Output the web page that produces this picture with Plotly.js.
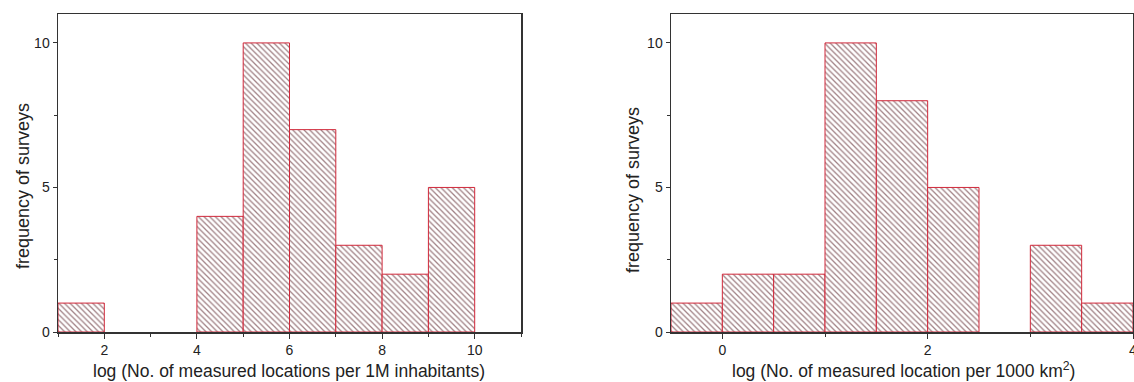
<!DOCTYPE html>
<html>
<head>
<meta charset="utf-8">
<script src="https://cdn.plot.ly/plotly-3.0.1.min.js"></script>
<style>
html,body{margin:0;padding:0;background:#fff;overflow:hidden;}
#chart{width:1134px;height:382px;}
</style>
</head>
<body>
<div id="chart"></div>
<script>
// Left histogram: log (No. of measured locations per 1M inhabitants), bin width 1
const leftBinCenters = [1.5, 4.5, 5.5, 6.5, 7.5, 8.5, 9.5];
const leftCounts     = [1, 4, 10, 7, 3, 2, 5];
const leftBinWidth   = 1;

// Right histogram: log (No. of measured location per 1000 km2), bin width 0.5
const rightBinCenters = [-0.25, 0.25, 0.75, 1.25, 1.75, 2.25, 3.25, 3.75];
const rightCounts     = [1, 2, 2, 10, 8, 5, 3, 1];
const rightBinWidth   = 0.5;

const yTicks = [0, 5, 10];
const leftXTicks = [2, 4, 6, 8, 10];
const rightXTicks = [0, 2, 4];

const W = 1134, H = 382;
const fontFam = '"Liberation Sans", Arial, sans-serif';

const pattern = {shape: '\\', fgcolor: '#a08084', bgcolor: '#ffffff', size: 4, solidity: 0.32, fillmode: 'replace'};
const barMarker = {color: '#ffffff', line: {color: '#d0283a', width: 1}, pattern: pattern};

const traces = [
  {type: 'bar', x: leftBinCenters, y: leftCounts, width: leftBinWidth,
   marker: barMarker, xaxis: 'x', yaxis: 'y', hoverinfo: 'x+y'},
  {type: 'bar', x: rightBinCenters, y: rightCounts, width: rightBinWidth,
   marker: barMarker, xaxis: 'x2', yaxis: 'y2', hoverinfo: 'x+y'}
];

const yDom = [1 - 332/H, 1 - 14/H];
function xAxis(dom, range, ticks, minorDtick, anchor) {
  return {
    domain: dom, range: range, anchor: anchor,
    tickmode: 'array', tickvals: ticks, ticktext: ticks.map(String),
    ticks: 'outside', ticklen: 5, tickwidth: 1, tickcolor: '#333',
    minor: {dtick: minorDtick, ticks: 'outside', ticklen: 3, tickcolor: '#333', showgrid: false},
    showline: true, linecolor: '#333', linewidth: 1.5, mirror: true,
    showgrid: false, zeroline: false, automargin: false,
    ticklabeloverflow: 'allow',
    tickfont: {family: fontFam, size: 14, color: '#222'}
  };
}
function yAxis(anchor) {
  return {
    domain: yDom, range: [0, 11], anchor: anchor,
    tickmode: 'array', tickvals: yTicks, ticktext: yTicks.map(String),
    ticks: 'outside', ticklen: 4, tickwidth: 1, tickcolor: '#333',
    minor: {tickvals: [2.5, 7.5], ticks: 'outside', ticklen: 3, tickcolor: '#333', showgrid: false},
    showline: true, linecolor: '#333', linewidth: 1.5, mirror: true,
    showgrid: false, zeroline: false, automargin: false,
    tickfont: {family: fontFam, size: 14, color: '#222'}
  };
}

const layout = {
  width: W, height: H,
  margin: {l: 0, r: 0, t: 0, b: 0, pad: 0},
  paper_bgcolor: '#fff', plot_bgcolor: '#fff',
  showlegend: false, bargap: 0,
  xaxis: xAxis([58/W, 521/W], [1, 11], leftXTicks, 1, 'y'),
  yaxis: yAxis('x'),
  xaxis2: xAxis([671/W, 1133/W], [-0.5, 4], rightXTicks, 1, 'y2'),
  yaxis2: yAxis('x2'),
  annotations: [
    {text: 'log (No. of measured locations per 1M inhabitants)', xref: 'paper', yref: 'paper',
     x: 289/W, y: 1 - 371/H, showarrow: false, xanchor: 'center', yanchor: 'middle',
     font: {family: fontFam, size: 17.5, color: '#222'}},
    {text: 'frequency of surveys', xref: 'paper', yref: 'paper', textangle: -90,
     x: 23/W, y: 1 - 186/H, showarrow: false, xanchor: 'center', yanchor: 'middle',
     font: {family: fontFam, size: 18, color: '#222'}},
    {text: 'log (No. of measured location per 1000 km<sup>2</sup>)', xref: 'paper', yref: 'paper',
     x: 903/W, y: 1 - 370/H, showarrow: false, xanchor: 'center', yanchor: 'middle',
     font: {family: fontFam, size: 17.5, color: '#222'}},
    {text: 'frequency of surveys', xref: 'paper', yref: 'paper', textangle: -90,
     x: 633/W, y: 1 - 190/H, showarrow: false, xanchor: 'center', yanchor: 'middle',
     font: {family: fontFam, size: 18, color: '#222'}}
  ]
};

Plotly.newPlot('chart', traces, layout, {staticPlot: true, displayModeBar: false});
</script>
</body>
</html>
